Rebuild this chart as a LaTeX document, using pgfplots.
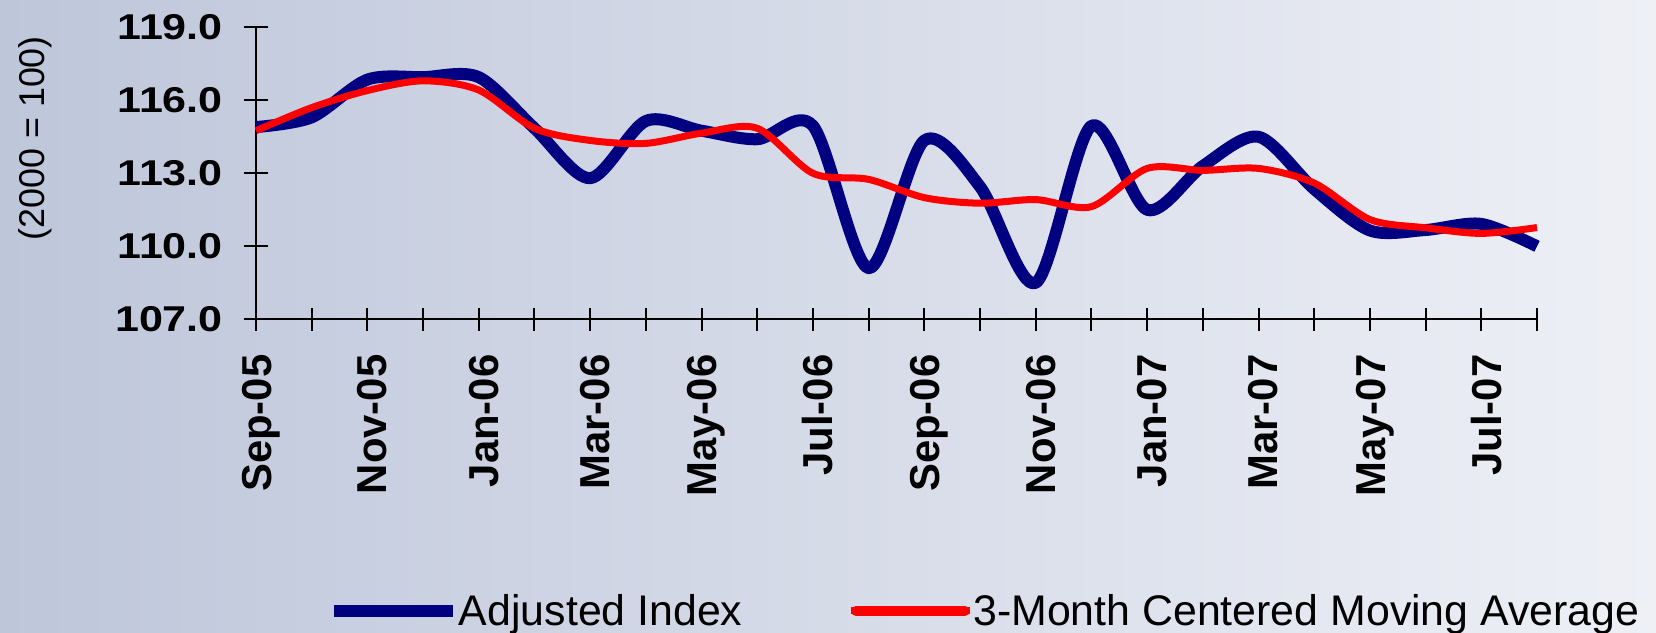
\documentclass[border=0pt]{standalone}
\usepackage{pgfplots}
\usepackage{pgfplotstable}
\pgfplotsset{compat=1.18}
\usepackage{fontspec}
\setmainfont{Liberation Sans}
\definecolor{bgL}{RGB}{190,198,218}
\definecolor{bgR}{RGB}{238,240,246}
\definecolor{navyline}{RGB}{0,0,128}
\definecolor{redline}{RGB}{255,0,0}

\pgfplotstableread{
x adj ma
0 114.90 114.75
1 115.30 115.70
2 116.85 116.40
3 116.95 116.80
4 116.95 116.42
5 114.85 114.85
6 112.80 114.35
7 115.15 114.23
8 114.75 114.65
9 114.40 114.85
10 114.95 113.00
11 109.10 112.75
12 114.35 112.00
13 112.45 111.77
14 108.50 111.92
15 114.95 111.63
16 111.50 113.20
17 113.30 113.12
18 114.50 113.20
19 112.35 112.60
20 110.65 111.10
21 110.67 110.76
22 110.92 110.53
23 110.00 110.77
}\datatable

\begin{document}
\begin{tikzpicture}
\shade[left color=bgL, right color=bgR] (0,0) rectangle (828bp,316.5bp);
\begin{axis}[
  at={(128bp,156.85bp)}, anchor=south west,
  scale only axis, width=640.5bp, height=146bp,
  xmin=0, xmax=23, ymin=107, ymax=119,
  axis x line=bottom, axis y line=left,
  axis line style={-, black, line width=1bp},
  tick style={black, line width=1bp},
  tick align=center, major tick length=11.5bp,
  xtick={0,...,23},
  xticklabels={Sep-05,,Nov-05,,Jan-06,,Mar-06,,May-06,,Jul-06,,Sep-06,,Nov-06,,Jan-07,,Mar-07,,May-07,,Jul-07,},
  xticklabel style={yshift=-11.7bp, xshift=2.5bp, rotate=90, anchor=east, inner sep=0pt, font=\bfseries\fontsize{21}{21}\selectfont},
  ytick={107,110,113,116,119},
  yticklabels={107.0,110.0,113.0,116.0,119.0},
  yticklabel style={xshift=-10.6bp, anchor=east, inner sep=0pt, xscale=1.2, font=\bfseries\fontsize{18}{18}\selectfont},
  ylabel={(2000 = 100)},
  ylabel style={at={(axis description cs:-0.1725,0.62)}, anchor=center, rotate=0, font=\fontsize{18}{18}\selectfont},
  clip=false,
  legend columns=2,
  legend style={at={(axis description cs:0.0562,-1.0014)}, anchor=west, draw=none, fill=none, inner sep=0pt, outer sep=0pt,
    font=\fontsize{21.5}{21.5}\selectfont, nodes={inner sep=0pt},
    /tikz/every odd column/.append style={column sep=0bp},
    /tikz/every even column/.append style={column sep=52.5bp}},
  legend image code/.code={\path (0bp,0.5bp) -- (59.5bp,0.5bp);\draw[#1, line width=5bp, line cap=round] (2.5bp,0.5bp) -- (57bp,0.5bp);},
]
\addplot[navyline, line width=6bp, smooth, line join=round] table[x=x, y=adj] {\datatable};
\addlegendentry{Adjusted Index}
\addplot[redline, line width=3.5bp, smooth, line join=round] table[x=x, y=ma] {\datatable};
\addlegendentry{3-Month Centered Moving Average}
\end{axis}
\pgfresetboundingbox
\path[use as bounding box] (0,0) rectangle (828bp,316.5bp);
\end{tikzpicture}
\end{document}
